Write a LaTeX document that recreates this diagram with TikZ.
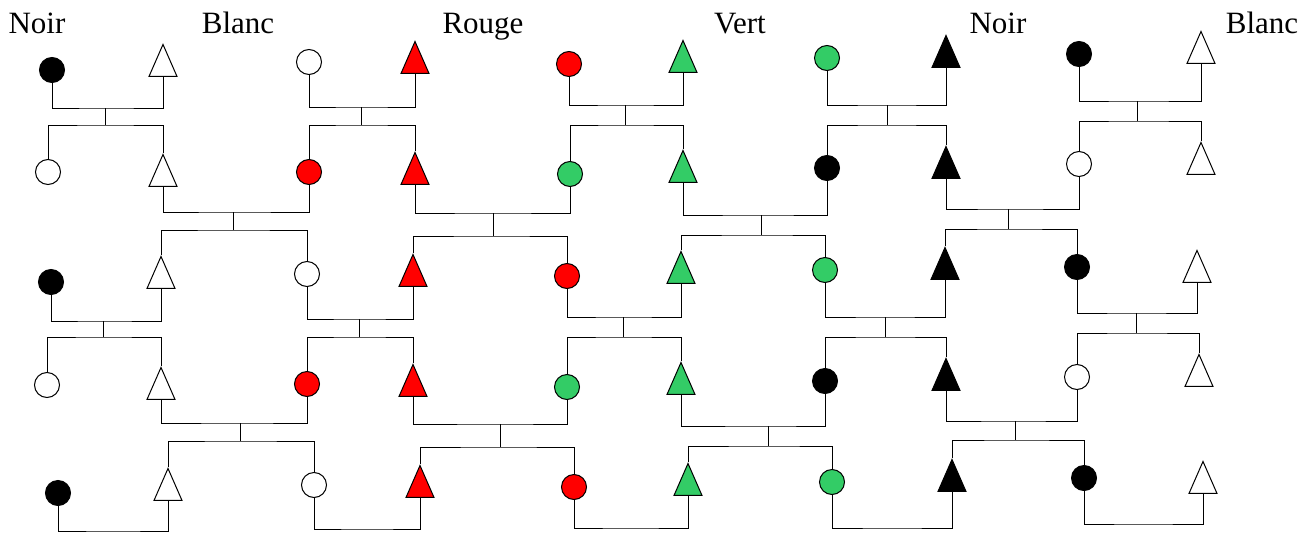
\documentclass[tikz,border=0pt]{standalone}
\usepackage{fontspec}
\setmainfont{Liberation Serif}
\usetikzlibrary{shapes.geometric}
\definecolor{vert}{HTML}{33CC66}

\begin{document}
\begin{tikzpicture}[x=1pt, y=-1pt, line width=1pt,
        rond/.style={circle, draw, minimum size=25pt, inner sep=0pt},
        tri/.style={isosceles triangle, isosceles triangle stretches, shape border rotate=90,
          draw, minimum width=28pt, minimum height=32pt, inner sep=0pt, yshift=-5.3pt},
        nom/.style={anchor=base, font=\fontsize{31}{37}\selectfont}]
        \useasboundingbox (0,0) rectangle (1307,533);

        \node [nom] (n1) at (37,33) {Noir};
        \node [nom] (n2) at (238,33) {Blanc};
        \node [nom] (n3) at (483,33) {Rouge};
        \node [nom] (n4) at (740,33) {Vert};
        \node [nom] (n5) at (998,33) {Noir};
        \node [nom] (n6) at (1262,33) {Blanc};

        \node [rond, fill=black] (c11) at (52,70) {};
        \node [tri, fill=white] (t11) at (163,62) {};
        \node [rond, fill=white] (c12) at (309,62) {};
        \node [tri, fill=red] (t12) at (415,59) {};
        \node [rond, fill=red] (c13) at (569,64) {};
        \node [tri, fill=vert] (t13) at (683,58) {};
        \node [rond, fill=vert] (c14) at (827,58) {};
        \node [tri, fill=black] (t14) at (946,53) {};
        \node [rond, fill=black] (c15) at (1079,54) {};
        \node [tri, fill=white] (t15) at (1201,49) {};

        \node [rond, fill=white] (c21) at (48,172) {};
        \node [tri, fill=white] (t21) at (163,172) {};
        \node [rond, fill=red] (c22) at (309,172) {};
        \node [tri, fill=red] (t22) at (415,170) {};
        \node [rond, fill=vert] (c23) at (570,174) {};
        \node [tri, fill=vert] (t23) at (683,168) {};
        \node [rond, fill=black] (c24) at (827,168) {};
        \node [tri, fill=black] (t24) at (946,164) {};
        \node [rond, fill=white] (c25) at (1079,164) {};
        \node [tri, fill=white] (t25) at (1201,160) {};

        \node [rond, fill=black] (c31) at (51,282) {};
        \node [tri, fill=white] (t31) at (161,274) {};
        \node [rond, fill=white] (c32) at (307,274) {};
        \node [tri, fill=red] (t32) at (413,272) {};
        \node [rond, fill=red] (c33) at (567,276) {};
        \node [tri, fill=vert] (t33) at (681,269) {};
        \node [rond, fill=vert] (c34) at (825,270) {};
        \node [tri, fill=black] (t34) at (945,265) {};
        \node [rond, fill=black] (c35) at (1077,267) {};
        \node [tri, fill=white] (t35) at (1197,268) {};

        \node [rond, fill=white] (c41) at (47,385) {};
        \node [tri, fill=white] (t41) at (161,385) {};
        \node [rond, fill=red] (c42) at (307,384) {};
        \node [tri, fill=red] (t42) at (413,382) {};
        \node [rond, fill=vert] (c43) at (567,387) {};
        \node [tri, fill=vert] (t43) at (681,380) {};
        \node [rond, fill=black] (c44) at (825,381) {};
        \node [tri, fill=black] (t44) at (946,376) {};
        \node [rond, fill=white] (c45) at (1077,377) {};
        \node [tri, fill=white] (t45) at (1199,372) {};

        \node [rond, fill=black] (c51) at (58,493) {};
        \node [tri, fill=white] (t51) at (168,486) {};
        \node [rond, fill=white] (c52) at (314,485) {};
        \node [tri, fill=red] (t52) at (420,483) {};
        \node [rond, fill=red] (c53) at (574,487) {};
        \node [tri, fill=vert] (t53) at (688,481) {};
        \node [rond, fill=vert] (c54) at (832,482) {};
        \node [tri, fill=black] (t54) at (952,477) {};
        \node [rond, fill=black] (c55) at (1084,478) {};
        \node [tri, fill=white] (t55) at (1203,479) {};

        \coordinate (m11) at (105,108);
        \coordinate (s11) at (105,125);
        \coordinate (m12) at (361,107);
        \coordinate (s12) at (361,125);
        \coordinate (m13) at (625,105);
        \coordinate (s13) at (625,125);
        \coordinate (m14) at (887,105);
        \coordinate (s14) at (887,125);
        \coordinate (m15) at (1137,101);
        \coordinate (s15) at (1137,121);

        \draw (c11.south) |- (m11) -| (t11.lower side);
        \draw (c12.south) |- (m12) -| (t12.lower side);
        \draw (c13.south) |- (m13) -| (t13.lower side);
        \draw (c14.south) |- (m14) -| (t14.lower side);
        \draw (c15.south) |- (m15) -| (t15.lower side);
        \draw (m11) -- (s11);
        \draw (m12) -- (s12);
        \draw (m13) -- (s13);
        \draw (m14) -- (s14);
        \draw (m15) -- (s15);
        \draw (c21.north) |- (s11) -| (t21.apex);
        \draw (c22.north) |- (s12) -| (t22.apex);
        \draw (c23.north) |- (s13) -| (t23.apex);
        \draw (c24.north) |- (s14) -| (t24.apex);
        \draw (c25.north) |- (s15) -| (t25.apex);

        \coordinate (m21) at (233,212);
        \coordinate (s21) at (233,230);
        \coordinate (m22) at (493,213);
        \coordinate (s22) at (493,236);
        \coordinate (m23) at (761,215);
        \coordinate (s23) at (761,235);
        \coordinate (m24) at (1008,209);
        \coordinate (s24) at (1008,229);

        \draw (t21.lower side) |- (m21) -| (c22.south);
        \draw (t22.lower side) |- (m22) -| (c23.south);
        \draw (t23.lower side) |- (m23) -| (c24.south);
        \draw (t24.lower side) |- (m24) -| (c25.south);
        \draw (m21) -- (s21);
        \draw (m22) -- (s22);
        \draw (m23) -- (s23);
        \draw (m24) -- (s24);
        \draw (t31.apex) |- (s21) -| (c32.north);
        \draw (t32.apex) |- (s22) -| (c33.north);
        \draw (t33.apex) |- (s23) -| (c34.north);
        \draw (t34.apex) |- (s24) -| (c35.north);

        \coordinate (m31) at (103,321);
        \coordinate (s31) at (103,337);
        \coordinate (m32) at (359,319);
        \coordinate (s32) at (359,337);
        \coordinate (m33) at (623,317);
        \coordinate (s33) at (623,337);
        \coordinate (m34) at (885,317);
        \coordinate (s34) at (885,337);
        \coordinate (m35) at (1136,313);
        \coordinate (s35) at (1136,333);

        \draw (c31.south) |- (m31) -| (t31.lower side);
        \draw (c32.south) |- (m32) -| (t32.lower side);
        \draw (c33.south) |- (m33) -| (t33.lower side);
        \draw (c34.south) |- (m34) -| (t34.lower side);
        \draw (c35.south) |- (m35) -| (t35.lower side);
        \draw (m31) -- (s31);
        \draw (m32) -- (s32);
        \draw (m33) -- (s33);
        \draw (m34) -- (s34);
        \draw (m35) -- (s35);
        \draw (c41.north) |- (s31) -| (t41.apex);
        \draw (c42.north) |- (s32) -| (t42.apex);
        \draw (c43.north) |- (s33) -| (t43.apex);
        \draw (c44.north) |- (s34) -| (t44.apex);
        \draw (c45.north) |- (s35) -| (t45.apex);

        \coordinate (m41) at (240,423);
        \coordinate (s41) at (240,441);
        \coordinate (m42) at (500,424);
        \coordinate (s42) at (500,447);
        \coordinate (m43) at (768,426);
        \coordinate (s43) at (768,446);
        \coordinate (m44) at (1015,421);
        \coordinate (s44) at (1015,440);

        \draw (t41.lower side) |- (m41) -| (c42.south);
        \draw (t42.lower side) |- (m42) -| (c43.south);
        \draw (t43.lower side) |- (m43) -| (c44.south);
        \draw (t44.lower side) |- (m44) -| (c45.south);
        \draw (m41) -- (s41);
        \draw (m42) -- (s42);
        \draw (m43) -- (s43);
        \draw (m44) -- (s44);
        \draw (t51.apex) |- (s41) -| (c52.north);
        \draw (t52.apex) |- (s42) -| (c53.north);
        \draw (t53.apex) |- (s43) -| (c54.north);
        \draw (t54.apex) |- (s44) -| (c55.north);

        \coordinate (m51) at (113,531);
        \coordinate (m52) at (367,529);
        \coordinate (m53) at (630,528);
        \coordinate (m54) at (892,528);
        \coordinate (m55) at (1143,524);

        \draw (c51.south) |- (m51) -| (t51.lower side);
        \draw (c52.south) |- (m52) -| (t52.lower side);
        \draw (c53.south) |- (m53) -| (t53.lower side);
        \draw (c54.south) |- (m54) -| (t54.lower side);
        \draw (c55.south) |- (m55) -| (t55.lower side);
      \end{tikzpicture}
\end{document}
